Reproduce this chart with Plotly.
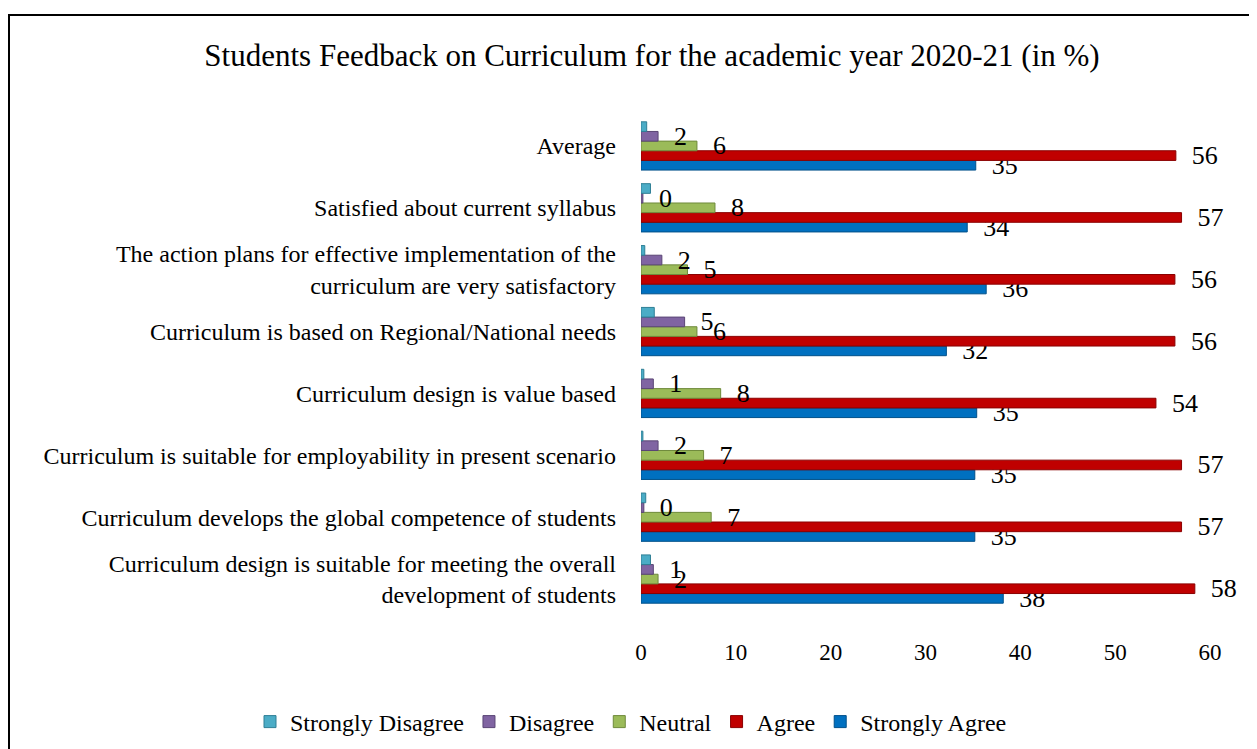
import plotly.graph_objects as go

categories = [
    "Curriculum design is suitable for meeting the overall<br>development of students",
    "Curriculum develops the global competence of students",
    "Curriculum is suitable for employability in present scenario",
    "Curriculum design is value based",
    "Curriculum is based on Regional/National needs",
    "The action plans for effective implementation of the<br>curriculum are very satisfactory",
    "Satisfied about current syllabus",
    "Average",
]
strongly_agree = [38.2, 35.2, 35.2, 35.4, 32.2, 36.4, 34.4, 35.3]
agree = [58.4, 57.0, 57.0, 54.3, 56.3, 56.3, 57.0, 56.4]
neutral = [1.8, 7.4, 6.6, 8.4, 5.9, 4.9, 7.8, 5.9]
disagree = [1.3, 0.3, 1.8, 1.3, 4.6, 2.2, 0.2, 1.8]
strongly_disagree = [1.0, 0.5, 0.2, 0.3, 1.4, 0.4, 1.0, 0.6]

x_ticks = [0, 10, 20, 30, 40, 50, 60]

series = [
    ("Strongly Agree", strongly_agree, "#0070C0", "#00508A", True),
    ("Agree", agree, "#C00000", "#8A0000", True),
    ("Neutral", neutral, "#9BBB59", "#6F8A3C", True),
    ("Disagree", disagree, "#8064A2", "#5A4575", True),
    ("Strongly Disagree", strongly_disagree, "#4BACC6", "#2F7F95", False),
]

FONT = "Liberation Serif, Times New Roman, serif"

fig = go.Figure()
for name, vals, color, edge, show_text in series:
    fig.add_trace(go.Bar(
        y=categories, x=vals, name=name, orientation="h",
        marker=dict(color=color, line=dict(color=edge, width=1)),
        text=vals if show_text else None,
        texttemplate="\u00a0\u00a0%{x:.0f}" if show_text else None,
        textposition="outside" if show_text else "none",
        textfont=dict(family=FONT, size=26, color="black"),
        constraintext="none",
        cliponaxis=False,
    ))

# page body offsets the figure by 8px; coordinates below are reference pixels
OFF = 8
W, H = 1257 - OFF, 749 - OFF
L = 641 - OFF
T = 115 - OFF
R = W - (1210 - OFF)
B = H - (610 - OFF)
pw = W - L - R
ph = H - T - B

def px_x(p):
    return (p - OFF - L) / pw

def px_y(p):
    return (H - B - (p - OFF)) / ph

fig.update_layout(
    width=W, height=H,
    margin=dict(l=L, r=R, t=T, b=B, autoexpand=False),
    paper_bgcolor="white", plot_bgcolor="white",
    barmode="group", bargap=0.22, bargroupgap=0,
    font=dict(family=FONT, color="black"),
    title=dict(
        text="Students Feedback on Curriculum for the academic year 2020-21 (in %)",
        x=(652 - OFF) / W, xanchor="center",
        y=1 - (55 - OFF) / H, yanchor="middle",
        font=dict(family=FONT, size=31, color="black"),
    ),
    xaxis=dict(
        range=[0, 60], tickvals=x_ticks, showgrid=False, zeroline=False,
        showline=False, ticks="", tickfont=dict(family=FONT, size=23),
        ticklabelstandoff=26,
    ),
    yaxis=dict(
        showgrid=False, zeroline=False, showline=False, ticks="",
        tickfont=dict(family=FONT, size=24), ticklabelstandoff=24,
        categoryorder="array", categoryarray=categories,
    ),
    legend=dict(
        orientation="h", traceorder="reversed",
        x=px_x(250), xanchor="left", y=px_y(722), yanchor="middle",
        font=dict(family=FONT, size=24), itemwidth=30,
    ),
    showlegend=True,
    shapes=[dict(
        type="rect", xref="paper", yref="paper",
        x0=px_x(9), x1=px_x(1275), y0=px_y(770), y1=px_y(15),
        line=dict(color="black", width=2), fillcolor="rgba(0,0,0,0)",
        layer="below",
    )],
)

fig.write_html("out.html")
